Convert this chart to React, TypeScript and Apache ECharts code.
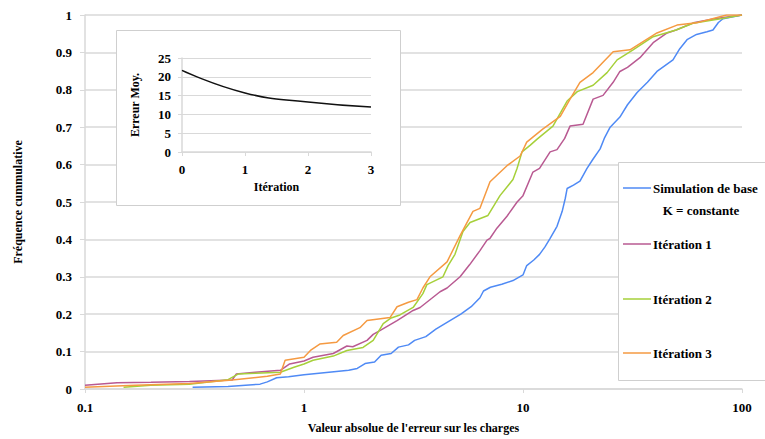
import React, { useEffect, useRef } from "react";
import * as echarts from "echarts";

// Cumulative frequency curves: [absolute error, cumulative frequency]
const simulationBase: [number, number][] = [
  [0.31, 0.005], [0.45, 0.007], [0.63, 0.013], [0.68, 0.019], [0.75, 0.03], [0.85, 0.033],
  [1.0, 0.038], [1.3, 0.045], [1.6, 0.05], [1.75, 0.055], [1.9, 0.068], [2.1, 0.072],
  [2.25, 0.09], [2.5, 0.095], [2.7, 0.112], [3.0, 0.118], [3.2, 0.13], [3.6, 0.14],
  [4.0, 0.16], [4.5, 0.178], [5.2, 0.2], [5.8, 0.22], [6.36, 0.244], [6.6, 0.262],
  [7.1, 0.272], [8.0, 0.28], [9.0, 0.29], [10, 0.305], [10.4, 0.33], [11.2, 0.345],
  [11.9, 0.36], [12.6, 0.38], [13.3, 0.403], [14.3, 0.435], [15.1, 0.475], [15.6, 0.51],
  [15.9, 0.536], [17, 0.545], [18.2, 0.556], [19.6, 0.59], [20.9, 0.615], [22.5, 0.642],
  [23.5, 0.67], [25, 0.7], [27.7, 0.727], [30, 0.76], [33.2, 0.793], [37, 0.82],
  [40.9, 0.849], [48.4, 0.88], [52, 0.91], [56.1, 0.934], [62, 0.948], [69.2, 0.955],
  [73.7, 0.96], [78, 0.98], [81.9, 0.99], [100, 1.0],
];

const iteration1: [number, number][] = [
  [0.1, 0.01], [0.14, 0.017], [0.2, 0.018], [0.3, 0.02], [0.47, 0.024], [0.49, 0.04],
  [0.6, 0.045], [0.78, 0.05], [0.86, 0.067], [1.0, 0.075], [1.1, 0.085], [1.36, 0.095],
  [1.57, 0.115], [1.67, 0.113], [1.94, 0.13], [2.07, 0.146], [2.22, 0.156], [2.66, 0.183],
  [3.15, 0.21], [3.39, 0.218], [4.18, 0.26], [4.5, 0.27], [5.16, 0.3], [5.7, 0.332],
  [6.36, 0.37], [6.85, 0.398], [7.07, 0.403], [7.6, 0.43], [8.45, 0.462], [9.4, 0.5],
  [10, 0.517], [11.1, 0.58], [11.9, 0.59], [13.3, 0.634], [14.3, 0.64], [15.5, 0.67],
  [16.4, 0.703], [18.8, 0.708], [20.9, 0.775], [23.2, 0.785], [25.8, 0.82], [27.7, 0.849],
  [30, 0.86], [34.2, 0.886], [39.3, 0.926], [45.5, 0.952], [50, 0.96], [60, 0.979],
  [75, 0.99], [100, 1.0],
];

const iteration2: [number, number][] = [
  [0.15, 0.005], [0.2, 0.01], [0.3, 0.013], [0.45, 0.025], [0.5, 0.04], [0.6, 0.042],
  [0.78, 0.045], [0.9, 0.058], [1.0, 0.067], [1.1, 0.077], [1.36, 0.088], [1.57, 0.103],
  [1.86, 0.111], [2.07, 0.13], [2.3, 0.175], [2.5, 0.19], [2.74, 0.198], [3.15, 0.218],
  [3.49, 0.255], [3.64, 0.279], [4.31, 0.3], [4.55, 0.33], [4.89, 0.36], [5.32, 0.421],
  [5.73, 0.445], [6.92, 0.464], [7.85, 0.517], [9.0, 0.56], [9.4, 0.59], [9.9, 0.634],
  [10.8, 0.652], [11.6, 0.668], [13.7, 0.703], [15.9, 0.77], [17.7, 0.795], [20.9, 0.812],
  [24.2, 0.846], [26.9, 0.88], [31.8, 0.907], [39.3, 0.942], [50, 0.96], [59.7, 0.978],
  [80, 0.99], [100, 1.0],
];

const iteration3: [number, number][] = [
  [0.1, 0.005], [0.17, 0.01], [0.3, 0.015], [0.47, 0.024], [0.68, 0.034], [0.78, 0.04],
  [0.82, 0.077], [1.0, 0.085], [1.07, 0.103], [1.18, 0.12], [1.41, 0.125], [1.51, 0.143],
  [1.8, 0.164], [1.94, 0.183], [2.47, 0.191], [2.66, 0.22], [3.0, 0.232], [3.28, 0.239],
  [3.49, 0.27], [3.76, 0.3], [4.5, 0.34], [5.16, 0.41], [5.61, 0.45], [5.91, 0.475],
  [6.36, 0.483], [7.07, 0.554], [8.45, 0.597], [9.7, 0.623], [10.4, 0.66], [12.3, 0.695],
  [14.8, 0.729], [16.4, 0.775], [18.2, 0.82], [20.9, 0.846], [25.8, 0.902], [30.8, 0.907],
  [40.9, 0.952], [50.5, 0.973], [62, 0.979], [85, 1.0], [100, 1.0],
];

// Inset: mean error per iteration
const insetIterations = [0, 1, 2, 3];
const insetMeanError = [21.7, 15.7, 13.3, 12.0];

const seriesNames = ["Simulation de base", "Itération 1", "Itération 2", "Itération 3"];
const seriesColors = ["#4f8af5", "#b95a92", "#a6d03a", "#f59a42"];

const FONT = "Liberation Serif";
const GRID_GRAY = "#d9d9d9";

export default function App() {
  const ref = useRef<HTMLDivElement>(null);

  useEffect(() => {
    if (!ref.current) return;
    const chart = echarts.init(ref.current, undefined, { renderer: "svg" });

    const labelStyle = { color: "#000", fontFamily: FONT, fontWeight: "bold" as const, fontSize: 13 };
    const nameStyle = { color: "#000", fontFamily: FONT, fontWeight: "bold" as const, fontSize: 12 };

    const legendRows = [188, 244, 299, 353];

    const legendElements: any[] = [
      {
        type: "rect",
        z: 10,
        shape: { x: 618.5, y: 162.5, width: 160, height: 218 },
        style: { fill: "#fff", stroke: "#cfcfcf", lineWidth: 1 },
      },
    ];
    seriesNames.forEach((name, i) => {
      legendElements.push({
        type: "line",
        z: 11,
        shape: { x1: 623, y1: legendRows[i], x2: 651, y2: legendRows[i] },
        style: { stroke: seriesColors[i], lineWidth: 1.5 },
      });
      legendElements.push({
        type: "text",
        z: 11,
        x: 653,
        y: legendRows[i],
        style: {
          text: name,
          fill: "#000",
          font: `bold 13px "${FONT}"`,
          verticalAlign: "middle",
          align: "left",
        },
      });
    });
    legendElements.push({
      type: "text",
      z: 11,
      x: 701,
      y: 210,
      style: {
        text: "K = constante",
        fill: "#000",
        font: `bold 13px "${FONT}"`,
        verticalAlign: "middle",
        align: "center",
      },
    });

    const mainData = [simulationBase, iteration1, iteration2, iteration3];

    chart.setOption({
      animation: false,
      backgroundColor: "#fff",
      grid: [
        { left: 85, right: 23, top: 15, bottom: 47 },
        { left: 182, right: 394, top: 58, bottom: 287 },
      ],
      xAxis: [
        {
          type: "log",
          logBase: 10,
          min: 0.1,
          max: 100,
          gridIndex: 0,
          name: "Valeur absolue de l'erreur sur les charges",
          nameLocation: "middle",
          nameGap: 33,
          nameTextStyle: nameStyle,
          axisLine: { lineStyle: { color: GRID_GRAY, width: 1.5 } },
          axisTick: { show: true, length: 4, lineStyle: { color: GRID_GRAY } },
          minorTick: { show: false },
          splitLine: { show: false },
          axisLabel: {
            ...labelStyle,
            margin: 12,
            formatter: (v: number) => (v < 1 ? v.toFixed(1) : String(Math.round(v))),
          },
        },
        {
          type: "value",
          gridIndex: 1,
          min: 0,
          max: 3,
          interval: 1,
          z: 3,
          name: "Itération",
          nameLocation: "middle",
          nameGap: 29,
          nameTextStyle: nameStyle,
          axisLine: { lineStyle: { color: GRID_GRAY, width: 1.5 } },
          axisTick: { show: true, length: 4, lineStyle: { color: GRID_GRAY } },
          splitLine: { show: false },
          axisLabel: { ...labelStyle, margin: 11 },
        },
      ],
      yAxis: [
        {
          type: "value",
          gridIndex: 0,
          min: 0,
          max: 1,
          interval: 0.1,
          name: "Fréquence cummulative",
          nameLocation: "middle",
          nameGap: 61,
          nameTextStyle: nameStyle,
          axisLine: { show: true, lineStyle: { color: GRID_GRAY, width: 1.5 } },
          axisTick: { show: true, length: 5, lineStyle: { color: GRID_GRAY } },
          splitLine: { show: true, lineStyle: { color: GRID_GRAY, width: 1.5 } },
          axisLabel: {
            ...labelStyle,
            margin: 13,
            formatter: (v: number) => (v === 0 || v === 1 ? String(v) : v.toFixed(1)),
          },
        },
        {
          type: "value",
          gridIndex: 1,
          min: 0,
          max: 25,
          interval: 5,
          z: 3,
          name: "Erreur Moy.",
          nameLocation: "middle",
          nameGap: 41,
          nameTextStyle: nameStyle,
          axisLine: { show: true, lineStyle: { color: GRID_GRAY, width: 1.5 } },
          axisTick: { show: true, length: 4, lineStyle: { color: GRID_GRAY } },
          splitLine: { show: true, lineStyle: { color: GRID_GRAY, width: 1.2 } },
          axisLabel: { ...labelStyle, margin: 11 },
        },
      ],
      graphic: {
        elements: [
          {
            type: "rect",
            z: 1,
            shape: { x: 116.5, y: 30.5, width: 284, height: 175 },
            style: { fill: "#fff", stroke: "#cfcfcf", lineWidth: 1 },
          },
          ...legendElements,
        ],
      },
      series: [
        ...mainData.map((d, i) => ({
          type: "line",
          name: seriesNames[i],
          xAxisIndex: 0,
          yAxisIndex: 0,
          data: d,
          showSymbol: false,
          lineStyle: { color: seriesColors[i], width: 1.5 },
          itemStyle: { color: seriesColors[i] },
          z: 2,
        })),
        {
          type: "line",
          name: "Erreur Moy.",
          xAxisIndex: 1,
          yAxisIndex: 1,
          data: insetIterations.map((it, i) => [it, insetMeanError[i]]),
          smooth: true,
          showSymbol: false,
          lineStyle: { color: "#111", width: 1.5 },
          z: 4,
        },
      ],
    });

    return () => chart.dispose();
  }, []);

  return (
    <div
      ref={ref}
      style={{ position: "absolute", left: 0, top: 0, width: 765, height: 439 }}
    />
  );
}
